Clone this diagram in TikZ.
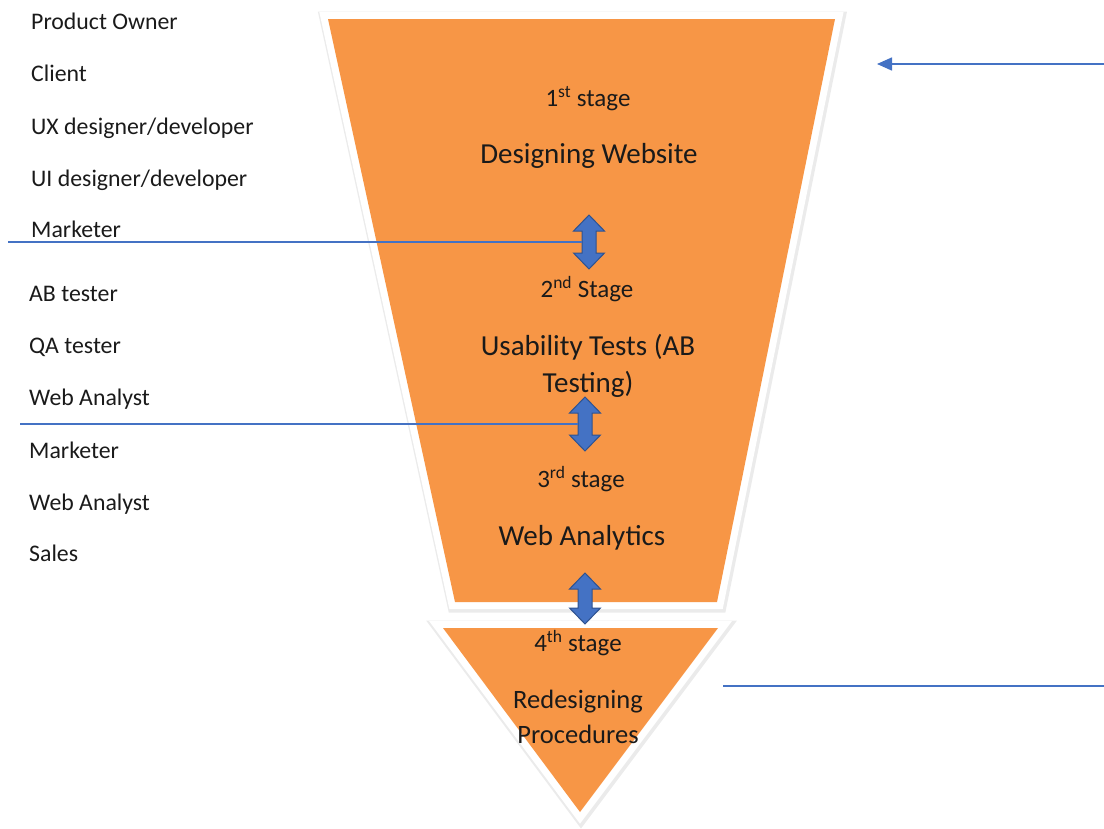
\documentclass[tikz,border=0pt]{standalone}
\usepackage{fontspec}
\setmainfont{Carlito}
\usetikzlibrary{arrows.meta}
\definecolor{funnelorange}{HTML}{F79646}
\definecolor{linkblue}{HTML}{4472C4}
\definecolor{linkdark}{HTML}{2F528F}
\definecolor{inktext}{HTML}{1A1A1A}

% vertical double-headed block arrow: centre x, top y, bottom y
\newcommand\stagearrow[3]{%
  \fill[linkblue,draw=linkdark,line width=1]
    (#1,#2) -- (#1+15.5,#2+16) -- (#1+7,#2+16) -- (#1+7,#3-16) -- (#1+15.5,#3-16)
    -- (#1,#3) -- (#1-15.5,#3-16) -- (#1-7,#3-16) -- (#1-7,#2+16) -- (#1-15.5,#2+16) -- cycle;}

\tikzset{
  rolelabel/.style={anchor=mid west,inner sep=0,text=inktext,font=\fontsize{23.8}{28}\selectfont},
  stagelabel/.style={anchor=mid,inner sep=0,text=inktext,font=\fontsize{25}{29}\selectfont},
  stagetitle/.style={anchor=mid,inner sep=0,text=inktext,font=\fontsize{29}{37}\selectfont,align=center},
  twoline/.style={anchor=center,inner sep=0,text=inktext,align=center},
  feedline/.style={linkblue,line width=1.6},
  shadowedge/.style={draw=black!8,line width=18,line join=miter},
  whiteedge/.style={draw=white,line width=14,line join=miter},
}

\begin{document}
\begin{tikzpicture}[x=1pt,y=-1pt]
\useasboundingbox (0,0) rectangle (1104,828);

% funnel body and bottom triangle, each with a white rim and soft shadow
\foreach \shape in {{(328,19) -- (835,19) -- (717,602) -- (455,602) -- cycle},
                    {(443,628) -- (718,628) -- (580,812) -- cycle}} {
  \path[shadowedge,transform canvas={shift={(1pt,-1.5pt)}}] \shape;
  \path[whiteedge] \shape;
  \fill[funnelorange] \shape;
}

% links between the stages
\stagearrow{589}{215}{269}
\stagearrow{585}{397}{451}
\stagearrow{585}{573}{624}
\coordinate (a1) at (582,242);
\coordinate (a2) at (578,424);

% people involved at each stage
\node[rolelabel] (r1) at (31,27) {Product Owner};
\node[rolelabel] (r2) at (31,79) {Client};
\node[rolelabel] (r3) at (31,132) {UX designer/developer};
\node[rolelabel] (r4) at (31,184) {UI designer/developer};
\node[rolelabel] (r5) at (31,235) {Marketer};
\node[rolelabel] (r6) at (29,299) {AB tester};
\node[rolelabel] (r7) at (29,351) {QA tester};
\node[rolelabel] (r8) at (29,403) {Web Analyst};
\node[rolelabel] (r9) at (29,456) {Marketer};
\node[rolelabel] (r10) at (29,508) {Web Analyst};
\node[rolelabel] (r11) at (29,559) {Sales};

% separators and feedback line
\coordinate (s1) at (8,242);
\coordinate (s2) at (20,424);
\draw[feedline] (s1) -- (a1);
\draw[feedline] (s2) -- (a2);
\coordinate (fbstart) at (1104,64);
\coordinate (fbend) at (877,64);
\draw[feedline,-{Triangle[length=15,width=13]}] (fbstart) -- (fbend);
\coordinate (rdstart) at (723,686);
\coordinate (rdend) at (1104,686);
\draw[feedline] (rdstart) -- (rdend);

% stage captions
\node[stagelabel] (st1) at (588,104) {1\textsuperscript{st} stage};
\node[stagetitle] (t1) at (589,161) {Designing Website};
\node[stagelabel] (st2) at (587,295) {2\textsuperscript{nd} Stage};
\node[twoline,font=\fontsize{29}{37}\selectfont] (t2) at (588,366) {Usability Tests (AB\\Testing)};
\node[stagelabel] (st3) at (581,485) {3\textsuperscript{rd} stage};
\node[stagetitle] (t3) at (582,543) {Web Analytics};
\node[stagelabel] (st4) at (578,649) {4\textsuperscript{th} stage};
\node[twoline,font=\fontsize{26.5}{35}\selectfont] (t4) at (578,717) {Redesigning\\Procedures};
\end{tikzpicture}
\end{document}
